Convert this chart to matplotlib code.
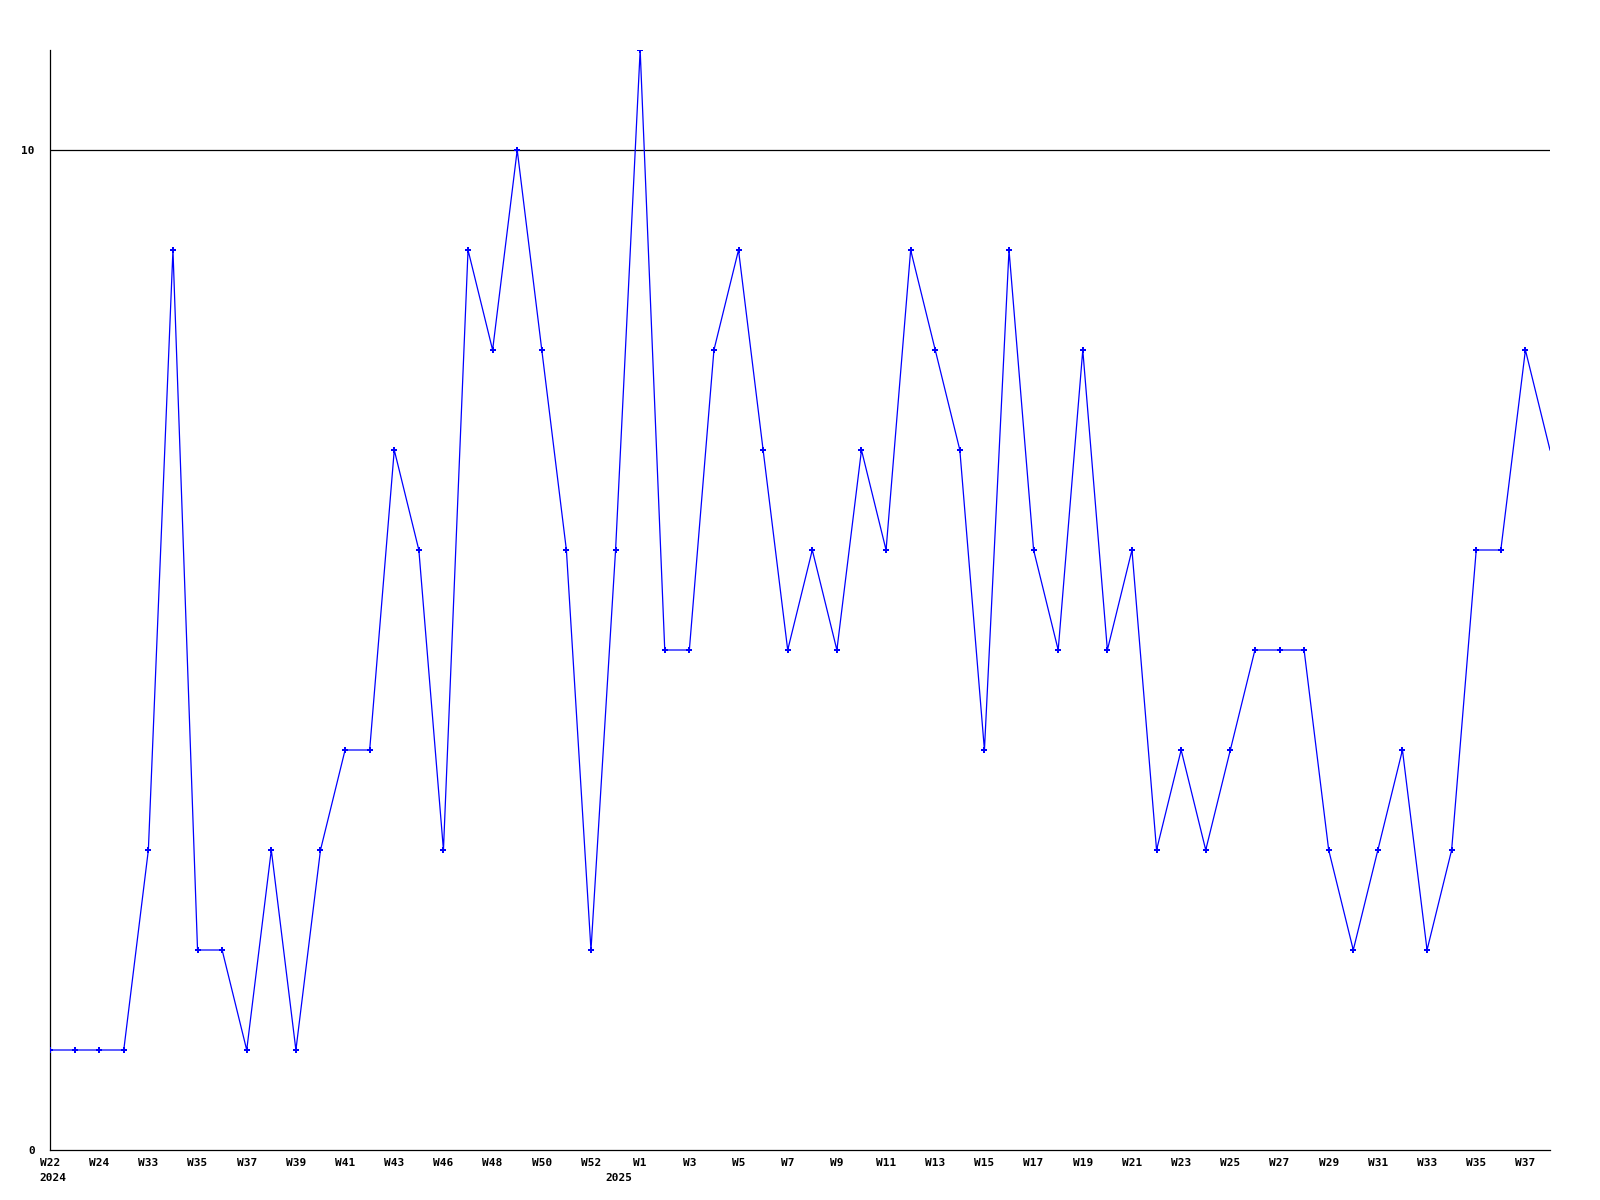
import numpy as np
import matplotlib
matplotlib.use("Agg")
import matplotlib.pyplot as plt

# weekly counts, one per point (62 points, last one is W38 2025)
values = [1, 1, 1, 1, 3, 9, 2, 2, 1, 3,
          1, 3, 4, 4, 7, 6, 3, 9, 8, 10,
          8, 6, 2, 6, 11, 5, 5, 8, 9, 7,
          5, 6, 5, 7, 6, 9, 8, 7, 4, 9,
          6, 5, 8, 5, 6, 3, 4, 3, 4, 5,
          5, 5, 3, 2, 3, 4, 2, 3, 6, 6,
          8, 7]

# a label on every second point
week_labels = ["W22", "W24", "W33", "W35", "W37", "W39", "W41", "W43",
               "W46", "W48", "W50", "W52", "W1", "W3", "W5", "W7", "W9",
               "W11", "W13", "W15", "W17", "W19", "W21", "W23", "W25",
               "W27", "W29", "W31", "W33", "W35", "W37"]
years = ["2024", "2025"]
year_pos = [0, 23]

x = np.arange(len(values))
blue = "#0000ff"

fig = plt.figure(figsize=(16, 12), dpi=100)
ax = fig.add_axes([50 / 1600, 50 / 1200, 1500 / 1600, 1100 / 1200])

ax.plot(x, values, color=blue, lw=0.9, zorder=3)
ax.plot(x[:-1], values[:-1], ls="none", marker="P", ms=4, color=blue,
        mew=0, zorder=4)

ax.axhline(10, color="black", lw=0.9, zorder=2)

ax.set_xlim(0, len(values) - 1)
ax.set_ylim(0, 11)

for side in ["top", "right"]:
    ax.spines[side].set_visible(False)
for side in ["left", "bottom"]:
    ax.spines[side].set_linewidth(0.9)
    ax.spines[side].set_color("black")

font = dict(family="DejaVu Sans Mono", fontsize=8, fontweight="bold")

ax.set_yticks([0, 10])
ax.set_yticklabels(["0", "10"], **font)
ax.set_xticks(x[::2])
ax.set_xticklabels(week_labels, **font)
ax.tick_params(axis="both", length=0)
ax.tick_params(axis="y", pad=11)
ax.tick_params(axis="x", pad=6)

for yr, pos in zip(years, year_pos):
    ax.text(pos + 0.12, -0.23, yr, ha="center", va="top",
            transform=ax.transData, clip_on=False, **font)

fig.savefig("out.png", dpi=100, facecolor="white")
